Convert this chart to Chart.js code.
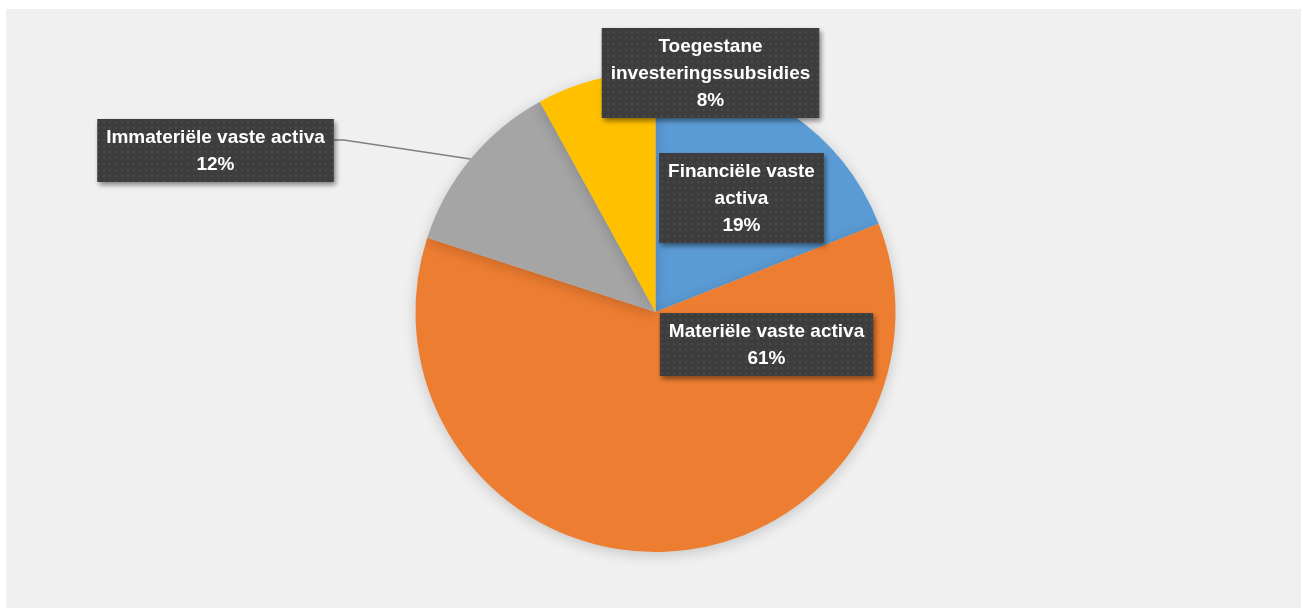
<!DOCTYPE html>
<html lang="nl">
  <head>
    <meta charset="UTF-8" />
    <title>Vaste activa</title>
    <script src="https://cdn.jsdelivr.net/npm/chart.js"></script>
    <style>
      body { margin: 0; background: #ffffff; }
      #wrap { width: 1303px; height: 610px; }
    </style>
  </head>
  <body>
    <div id="wrap"><canvas id="pieChart" width="1303" height="610"></canvas></div>
    <script>
      const categories = [
        "Financiële vaste activa",
        "Materiële vaste activa",
        "Immateriële vaste activa",
        "Toegestane investeringssubsidies",
      ];
      const shares = [19, 61, 12, 8];
      const colors = ["#5b9bd5", "#ed7d31", "#a5a5a5", "#ffc000"];
      // label text lines, as wrapped in the original
      const labelLines = [
        ["Financiële vaste", "activa"],
        ["Materiële vaste activa"],
        ["Immateriële vaste activa"],
        ["Toegestane", "investeringssubsidies"],
      ];
      // box centre x and top, relative to pie centre
      const labelPos = [
        { dx: 86, top: -159 },
        { dx: 111, top: 1 },
        { dx: -440, top: -193 },
        { dx: 55, top: -284 },
      ];

      const FONT = "bold 19px 'Liberation Sans', Arial, sans-serif";
      const LINE_H = 27;

      function makePattern(ctx) {
        const p = document.createElement("canvas");
        p.width = 6;
        p.height = 6;
        const pc = p.getContext("2d");
        pc.fillStyle = "#3d3d3d";
        pc.fillRect(0, 0, 6, 6);
        pc.fillStyle = "#4a4a4a";
        pc.fillRect(1, 1, 2, 2);
        return ctx.createPattern(p, "repeat");
      }

      const backgroundPlugin = {
        id: "bg",
        beforeDraw(chart) {
          const ctx = chart.ctx;
          ctx.save();
          ctx.fillStyle = "#f0f0f0";
          ctx.fillRect(6, 9, chart.width - 8, chart.height - 11);
          ctx.restore();
        },
        beforeDatasetsDraw(chart) {
          const ctx = chart.ctx;
          ctx.save();
          ctx.shadowColor = "rgba(0,0,0,0.18)";
          ctx.shadowBlur = 14;
          ctx.shadowOffsetY = 3;
        },
        afterDatasetsDraw(chart) {
          chart.ctx.restore();
        },
      };

      const labelPlugin = {
        id: "boxLabels",
        afterDraw(chart) {
          const ctx = chart.ctx;
          const meta = chart.getDatasetMeta(0);
          const cx = meta.data[0].x;
          const cy = meta.data[0].y;
          const r = meta.data[0].outerRadius;
          const pattern = makePattern(ctx);
          ctx.save();
          ctx.font = FONT;

          meta.data.forEach((arc, i) => {
            const lines = labelLines[i].concat([shares[i] + "%"]);
            let w = 0;
            lines.forEach((t) => (w = Math.max(w, ctx.measureText(t).width)));
            w += 18;
            const h = lines.length * LINE_H + 9;
            const bx = cx + labelPos[i].dx - w / 2;
            const by = cy + labelPos[i].top;

            // leader line for the label outside the pie
            if (i === 2) {
              const mid = (arc.startAngle + arc.endAngle) / 2;
              const ex = cx + Math.cos(mid) * r;
              const ey = cy + Math.sin(mid) * r;
              ctx.strokeStyle = "#7f7f7f";
              ctx.lineWidth = 1.5;
              ctx.beginPath();
              ctx.moveTo(bx + w, by + 21);
              ctx.lineTo(bx + w + 10, by + 21);
              ctx.lineTo(ex, ey);
              ctx.stroke();
            }

            ctx.save();
            ctx.shadowColor = "rgba(0,0,0,0.45)";
            ctx.shadowBlur = 5;
            ctx.shadowOffsetX = 2;
            ctx.shadowOffsetY = 3;
            ctx.fillStyle = pattern;
            ctx.fillRect(bx, by, w, h);
            ctx.restore();

            ctx.fillStyle = "#ffffff";
            ctx.textAlign = "center";
            ctx.textBaseline = "middle";
            lines.forEach((t, k) => {
              ctx.fillText(t, bx + w / 2, by + 19 + k * LINE_H);
            });
          });
          ctx.restore();
        },
      };

      new Chart(document.getElementById("pieChart"), {
        type: "pie",
        data: {
          labels: categories,
          datasets: [
            {
              data: shares,
              backgroundColor: colors,
              borderWidth: 0,
            },
          ],
        },
        options: {
          responsive: false,
          animation: false,
          layout: { padding: { left: 10, right: 2, top: 72, bottom: 58 } },
          plugins: {
            legend: { display: false },
            tooltip: { enabled: false },
          },
        },
        plugins: [backgroundPlugin, labelPlugin],
      });
    </script>
  </body>
</html>
